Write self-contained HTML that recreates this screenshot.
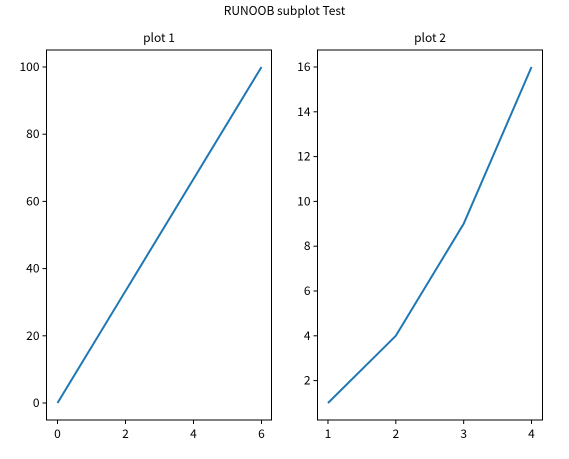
<!DOCTYPE html>
<html><head><meta charset="utf-8"><style>
body{margin:0;background:#fff;}
svg text{font-family:"Noto Sans CJK SC","WenQuanYi Zen Hei","Liberation Sans","DejaVu Sans",sans-serif;font-size:12px;fill:#000;}
</style></head><body>
<svg id="c" width="569" height="454" xmlns="http://www.w3.org/2000/svg">
<text x="284.5" y="15" text-anchor="middle" font-size="14">RUNOOB subplot Test</text>
</svg>
<script>
const x1 = [0, 6];
const y1 = [0, 100];
const x1Ticks = [0, 2, 4, 6];
const y1Ticks = [0, 20, 40, 60, 80, 100];
const x2 = [1, 2, 3, 4];
const y2 = [1, 4, 9, 16];
const x2Ticks = [1, 2, 3, 4];
const y2Ticks = [2, 4, 6, 8, 10, 12, 14, 16];
const titles = ["plot 1", "plot 2"];

const svg = document.getElementById('c');
const NS = 'http://www.w3.org/2000/svg';
function mk(tag, attrs, parent){const e=document.createElementNS(NS,tag);for(const k in attrs)e.setAttribute(k,attrs[k]);(parent||svg).appendChild(e);return e;}

function panel(idx, left, right, xs, ys, xt, yt, xmin, xmax, ymin, ymax, title){
  const top=50,bottom=420;
  const g=mk('g',{});
  
  
  const sx=v=>left+(v-xmin)/(xmax-xmin)*(right-left);
  const sy=v=>bottom-(v-ymin)/(ymax-ymin)*(bottom-top);
  const t=mk('text',{x:(left+right)/2,y:top-8,'text-anchor':'middle','font-size':'14'},g);
  t.textContent=title;
  
  
  xt.forEach(v=>{
    const x=sx(v);
    const l=mk('line',{x1:x,x2:x,y1:bottom,y2:bottom+4,stroke:'#000','stroke-width':1},g);
    
    
    const tx=mk('text',{x:x,y:bottom+18,'text-anchor':'middle'},g);tx.textContent=v;
    
    
  });
  yt.forEach(v=>{
    const y=sy(v);
    const l=mk('line',{x1:left-4,x2:left,y1:y,y2:y,stroke:'#000','stroke-width':1},g);
    
    
    const tx=mk('text',{x:left-7,y:y+4,'text-anchor':'end'},g);tx.textContent=v;
    
    
  });
  const p=mk('polyline',{points:xs.map((v,i)=>sx(v)+','+sy(ys[i])).join(' '),fill:'none',stroke:'#1f77b4','stroke-width':2},g);
  
  
  const r=mk('rect',{x:left,y:top,width:right-left,height:bottom-top,fill:'none',stroke:'#000','stroke-width':1},g);
  
  
}
panel(0,46.5,271.5,x1,y1,x1Ticks,y1Ticks,-0.3235,6.2941,-5.06,105.06,titles[0]);
panel(1,317.5,542.5,x2,y2,x2Ticks,y2Ticks,0.8456,4.1618,0.2411,16.759,titles[1]);
</script>
</body></html>
